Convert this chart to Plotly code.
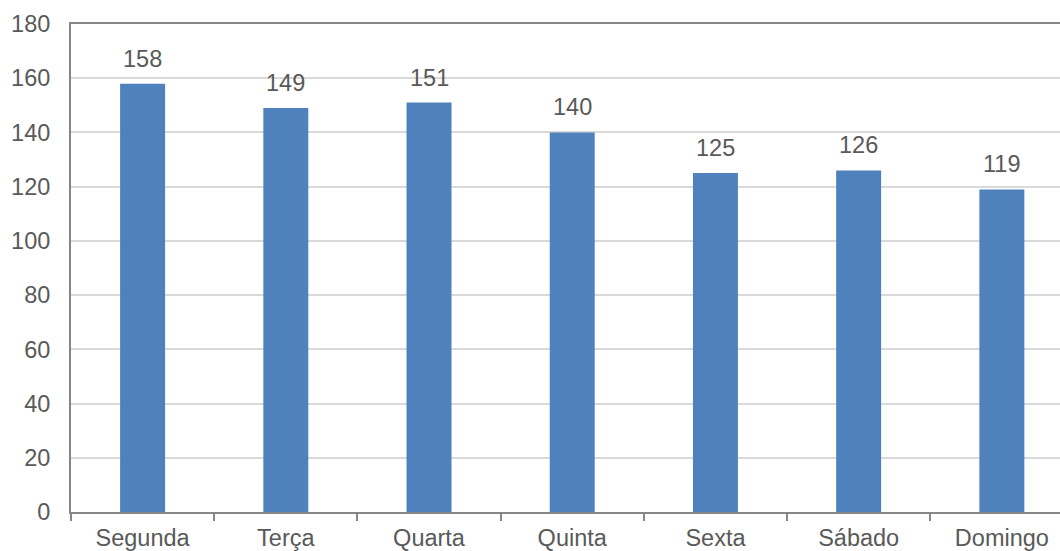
import plotly.graph_objects as go

categories = ["Segunda", "Terça", "Quarta", "Quinta", "Sexta", "Sábado", "Domingo"]
values = [158, 149, 151, 140, 125, 126, 119]
y_ticks = [0, 20, 40, 60, 80, 100, 120, 140, 160, 180]

TEXT = "#595959"
FONT = "Liberation Sans, Arial, sans-serif"
FS = 23.5

fig = go.Figure()
fig.add_trace(go.Bar(
    x=categories, y=values,
    marker=dict(color="#4f81bd", line=dict(width=0)),
    hoverinfo="skip",
))

for c, v in zip(categories, values):
    fig.add_annotation(x=c, y=v, text=str(v), showarrow=False,
                       yanchor="bottom", yshift=10,
                       font=dict(size=FS, color=TEXT, family=FONT))

fig.update_layout(
    width=1060, height=551,
    margin=dict(l=71, r=0, t=24, b=39),
    paper_bgcolor="white", plot_bgcolor="white",
    bargap=0.686,
    showlegend=False,
    font=dict(family=FONT, size=FS, color=TEXT),
)
fig.update_xaxes(
    type="category",
    range=[-0.5, 6.406],
    automargin=False,
    showline=True, linecolor="#868686", linewidth=2, mirror=True,
    ticks="outside", tickson="boundaries", ticklen=7, tickcolor="#868686", tickwidth=2,
    showgrid=False,
    tickfont=dict(size=FS, color=TEXT, family=FONT),
    ticklabelstandoff=4,
)
fig.update_yaxes(
    range=[0, 180],
    automargin=False,
    tickvals=y_ticks,
    showline=True, linecolor="#868686", linewidth=2,
    showgrid=True, gridcolor="#d9d9d9", gridwidth=1.5,
    zeroline=False,
    ticks="",
    tickfont=dict(size=FS, color=TEXT, family=FONT),
    ticklabelstandoff=14,
)

fig.write_html("out.html")
